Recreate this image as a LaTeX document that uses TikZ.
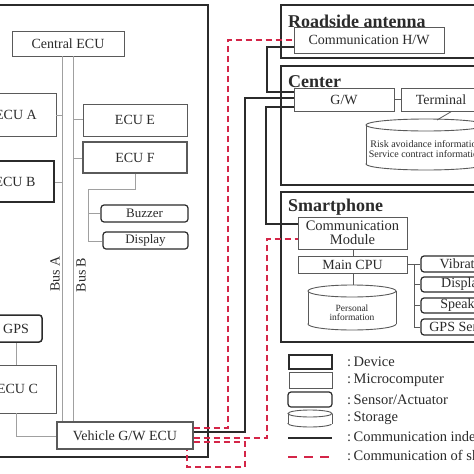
\documentclass[tikz,border=0pt]{standalone}
\usepackage{fontspec}
\setmainfont{Liberation Serif}
\usetikzlibrary{calc}
\definecolor{ink}{HTML}{2B2B2B}
\definecolor{boxgray}{HTML}{5A5A5A}
\definecolor{linegray}{HTML}{A0A0A0}
\definecolor{redc}{HTML}{D42548}
\newcommand{\myfs}[1]{\fontsize{#1}{#1}\selectfont}
\begin{document}
\begin{tikzpicture}[x=1pt,y=-1pt,
 every node/.style={text=ink, font=\myfs{14}},
 device/.style={draw=ink, line width=1.8pt, inner sep=0, fill=white},
 micro/.style={draw=boxgray, line width=0.9pt, inner sep=0, fill=white},
 sensor/.style={draw=ink, line width=1.2pt, rounded corners=3pt, inner sep=0, fill=white},
 frame/.style={draw=ink, line width=2.2pt, inner sep=0},
 bus/.style={draw=linegray, line width=0.8pt},
 comm/.style={draw=ink, line width=1.8pt},
 shortc/.style={draw=redc, line width=1.8pt, dash pattern=on 6pt off 4pt},
 storage/.style={draw=boxgray, line width=0.9pt},
 title/.style={font=\bfseries\myfs{18}, anchor=base west, inner sep=0},
 legtext/.style={anchor=west, inner sep=0, font=\myfs{14.5}},
]
\useasboundingbox (0,0) rectangle (474,474);
\fill[white] (0,0) rectangle (474,474);
\clip (0,0) rectangle (474,474);

% frames
\node[frame, minimum width=213pt, minimum height=452pt] (vehicle) at (101.5,231) {};
\node[frame, minimum width=199pt, minimum height=53pt] (road) at (380.5,31.5) {};
\node[frame, minimum width=199pt, minimum height=119pt] (centerf) at (380.5,125.5) {};
\node[frame, minimum width=199pt, minimum height=150pt] (smart) at (380.5,267) {};
\node[title] (troad) at (288,27) {Roadside antenna};
\node[title] (tcenter) at (288,87) {Center};
\node[title] (tsmart) at (288,211) {Smartphone};

% vehicle boxes (positions needed for buses)
\node[micro, minimum width=112pt, minimum height=25pt] (central) at (68,43.5) {Central ECU};
\node[micro, line width=1.1pt, minimum width=136pt, minimum height=27pt] (vgw) at (125,435.5) {Vehicle G/W ECU};

% buses
\draw[bus] (central.south -| 62,0) -- (vgw.north -| 62,0);
\draw[bus] (central.south -| 73,0) -- (vgw.north -| 73,0);
\node[rotate=90] (busa) at (55,274) {Bus A};
\node[rotate=90] (busb) at (81,275) {Bus B};

\node[micro, minimum width=80pt, minimum height=43pt] (ecua) at (16,114.5) {ECU A};
\node[device, line width=1.6pt, minimum width=78pt, minimum height=41pt] (ecub) at (15,181.5) {ECU B};
\node[micro, minimum width=104pt, minimum height=32pt] (ecue) at (135,120) {ECU E};
\node[micro, line width=1.1pt, minimum width=104pt, minimum height=31pt] (ecuf) at (135,157.5) {ECU F};
\node[sensor, minimum width=87pt, minimum height=17pt, font=\myfs{13}] (buzzer) at (144.5,213.5) {Buzzer};
\node[sensor, minimum width=85pt, minimum height=17pt, font=\myfs{13}] (disp) at (145.5,240.5) {Display};
\node[sensor, line width=1.5pt, minimum width=52pt, minimum height=27pt] (gps) at (16,328.5) {GPS};
\node[micro, minimum width=77pt, minimum height=48pt] (ecuc) at (17.5,389) {ECU C};

\draw[bus] (ecua.east |- 0,115) -- (62,115);
\draw[bus] (ecub.east |- 0,182) -- (62,182);
\draw[bus] (ecue.west |- 0,119) -- (73,119);
\draw[bus] (ecuf.west |- 0,158) -- (73,158);
\draw[bus] (ecuf.south) -- (135,189) -- (88,189) -- (88,241) -- (disp.west |- 0,241);
\draw[bus] (88,213) -- (buzzer.west |- 0,213);
\draw[bus] (gps.south) -- (ecuc.north -| gps.south);
\draw[bus] (ecuc.south -| gps.south) -- (16,436) -- (vgw.west |- 0,436);

% right side boxes
\node[micro, minimum width=150pt, minimum height=26pt] (commhw) at (369,40) {Communication H/W};
\node[micro, minimum width=100pt, minimum height=23pt] (gw) at (344,99.5) {G/W};
\node[micro, minimum width=80pt, minimum height=23pt] (term) at (441,99.5) {Terminal};
\draw[bus, draw=boxgray] (gw.east) -- (term.west);

% center storage
\draw[storage] (426,164) ellipse [x radius=60, y radius=6];
\fill[white] (366,125) rectangle (486,164);
\draw[storage] (366,125) -- (366,164);
\draw[storage] (486,125) -- (486,164);
\draw[storage, fill=white] (426,125) ellipse [x radius=60, y radius=6];
\coordinate (cyltop) at (437,120);
\node[align=center, font=\myfs{10}, inner sep=0] (cylc) at (426,149) {Risk avoidance information\\[0pt]Service contract information};
\draw[bus, draw=boxgray] ($(term.south west)+(51,0)$) -- (cyltop);

% smartphone
\node[micro, minimum width=109pt, minimum height=32pt, align=center, font=\myfs{14.5}] (cmod) at (352.5,233) {Communication\\[-1pt]Module};
\node[micro, minimum width=109pt, minimum height=17pt] (cpu) at (352.5,264.5) {Main CPU};
\draw[storage] (352,324) ellipse [x radius=44, y radius=6];
\fill[white] (308,291) rectangle (396,324);
\draw[storage] (308,291) -- (308,324);
\draw[storage] (396,291) -- (396,324);
\draw[storage, fill=white] (352,291) ellipse [x radius=44, y radius=6];
\coordinate (perstop) at (353,285);
\node[align=center, font=\myfs{9.5}, inner sep=0] (pers) at (352,312.5) {Personal\\[-1pt]information};
\draw[bus, draw=boxgray] (cmod.south -| 353,0) -- (cpu.north -| 353,0);
\draw[bus, draw=boxgray] (cpu.south -| 353,0) -- (perstop);

\node[sensor, minimum width=84pt, minimum height=16pt] (vib) at (463,264) {Vibrator};
\node[sensor, minimum width=84pt, minimum height=15pt] (disp2) at (463,284.5) {Display};
\node[sensor, minimum width=84pt, minimum height=15pt] (spk) at (463,305.5) {Speaker};
\node[sensor, minimum width=84pt, minimum height=16pt] (gpss) at (463,327) {GPS Sensor};
\draw[bus, draw=boxgray] (cpu.east |- 0,264) -- (414,264) -- (414,327);
\draw[bus, draw=boxgray] (414,264) -- (vib.west);
\draw[bus, draw=boxgray] (414,284.5) -- (disp2.west);
\draw[bus, draw=boxgray] (414,305.5) -- (spk.west);
\draw[bus, draw=boxgray] (414,327) -- (gpss.west);

% communication links
\draw[comm] (commhw.west |- 0,47) -| (267,92) -- (gw.west |- 0,92);
\draw[comm] (vgw.east |- 0,432) -| (245,98) -- (gw.west |- 0,98);
\draw[comm] (gw.west |- 0,107) -| (266,224) -- (cmod.west |- 0,224);
\draw[shortc] (vgw.east |- 0,428) -| (228,40) -- (commhw.west);
\draw[shortc] (vgw.east |- 0,438) -| (267,239) -- (cmod.west |- 0,239);
\draw[shortc] (vgw.east |- 0,442) -- (245,442) -- (245,467) -- (187,467) -- (vgw.south -| 187,0);

% legend
\node[device, minimum width=43pt, minimum height=14pt] (ldevbox) at (310.5,362) {};
\node[micro, minimum width=43pt, minimum height=16pt] (lmicbox) at (310.5,380) {};
\node[sensor, minimum width=44pt, minimum height=15pt] (lsenbox) at (310,399.5) {};
\draw[storage] (310,423.5) ellipse [x radius=22, y radius=3.5];
\fill[white] (288,413.5) rectangle (332,423.5);
\draw[storage] (288,413.5) -- (288,423.5);
\draw[storage] (332,413.5) -- (332,423.5);
\draw[storage, fill=white] (310,413.5) ellipse [x radius=22, y radius=3.5];
\coordinate (lc1) at (288,438);
\coordinate (lc2) at (332,438);
\coordinate (ld1) at (288,457);
\coordinate (ld2) at (332,457);
\draw[comm] (lc1) -- (lc2);
\draw[shortc, dash pattern=on 9pt off 7pt] (ld1) -- (ld2);
\node[legtext] (tdev) at (347,362) {:\,Device};
\node[legtext] (tmic) at (347,380) {:\,Microcomputer};
\node[legtext] (tsen) at (347,399.5) {:\,Sensor/Actuator};
\node[legtext] (tsto) at (347,418) {:\,Storage};
\node[legtext] (tci) at (347,438) {:\,Communication independent of smartphone};
\node[legtext] (tcs) at (347,457) {:\,Communication of short range};
\end{tikzpicture}
\end{document}
